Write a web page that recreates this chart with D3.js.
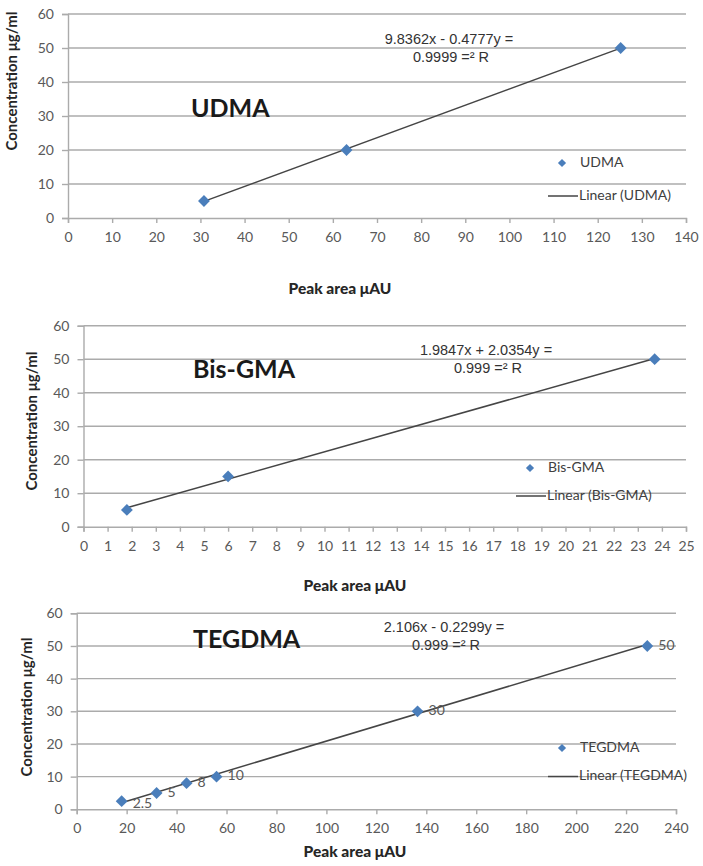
<!DOCTYPE html>
<html>
<head>
<meta charset="utf-8">
<script src="https://cdn.jsdelivr.net/npm/d3@7"></script>
<style>
  body { margin: 0; background: #fff; }
  svg { display: block; }
</style>
</head>
<body>
<svg id="chart" width="703" height="866"></svg>
<script>
// ---------- DATA ----------
const udmaArea = [30.8, 63.1, 125.2];
const udmaConc = [5, 20, 50];
const udmaFit = [0.4777, -9.8362];            // slope, intercept
const udmaEq = ["9.8362x - 0.4777y =", "0.9999 =\u00B2 R"];
const udmaXTicks = [0, 10, 20, 30, 40, 50, 60, 70, 80, 90, 100, 110, 120, 130, 140];

const bisArea = [1.8, 6.0, 23.7];
const bisConc = [5, 15, 50];
const bisFit = [2.0354, 1.9847];
const bisEq = ["1.9847x + 2.0354y =", "0.999 =\u00B2 R"];
const bisXTicks = [0, 1, 2, 3, 4, 5, 6, 7, 8, 9, 10, 11, 12, 13, 14, 15, 16, 17, 18, 19, 20, 21, 22, 23, 24, 25];

const tegArea = [18, 32, 44, 56, 136.5, 228.5];
const tegConc = [2.5, 5, 8, 10, 30, 50];
const tegLabels = ["2.5", "5", "8", "10", "30", "50"];
const tegFit = [0.2299, -2.106];
const tegEq = ["2.106x - 0.2299y =", "0.999 =\u00B2 R"];
const tegXTicks = [0, 20, 40, 60, 80, 100, 120, 140, 160, 180, 200, 220, 240];

const yTicks = [0, 10, 20, 30, 40, 50, 60];
const yTitle = "Concentration \u03BCg/ml";
const xTitle = "Peak area  \u03BCAU";

// ---------- DRAW ----------
const svg = d3.select("#chart");
const FONT = "Lato, 'Open Sans', sans-serif";
const GRID = "#ababab";
const TICKC = "#595959";
const BLUE = "#4a7ebb";

function panel(cfg) {
  const x = d3.scaleLinear().domain([cfg.xTicks[0], cfg.xTicks[cfg.xTicks.length - 1]]).range(cfg.xr);
  const y = d3.scaleLinear().domain([0, 60]).range(cfg.yr);
  const g = svg.append("g");

  // gridlines
  g.append("g").selectAll("line").data(yTicks.filter(d => d > 0)).join("line")
    .attr("x1", cfg.xr[0]).attr("x2", cfg.xr[1])
    .attr("y1", d => y(d)).attr("y2", d => y(d))
    .attr("stroke", GRID).attr("stroke-width", 1.4);

  // y axis
  const ya = g.append("g").attr("transform", `translate(${cfg.xr[0]},0)`)
    .call(d3.axisLeft(y).tickValues(yTicks).tickSize(6).tickPadding(8));
  ya.select(".domain").attr("stroke", GRID).attr("stroke-width", 1.4);
  ya.selectAll(".tick line").attr("stroke", GRID).attr("stroke-width", 1.4);
  ya.selectAll(".tick text").attr("fill", TICKC).style("font-family", FONT).style("font-size", "14px");

  // x axis
  const xa = g.append("g").attr("transform", `translate(0,${cfg.yr[0]})`)
    .call(d3.axisBottom(x).tickValues(cfg.xTicks).tickSize(5).tickPadding(9));
  xa.select(".domain").attr("stroke", GRID).attr("stroke-width", 1.4);
  xa.selectAll(".tick line").attr("stroke", GRID).attr("stroke-width", 1.4);
  xa.selectAll(".tick text").attr("fill", TICKC).style("font-family", FONT).style("font-size", "14px");

  // trendline over data range
  const x0 = d3.min(cfg.area), x1 = d3.max(cfg.area);
  const f = v => cfg.fit[0] * v + cfg.fit[1];
  g.append("line")
    .attr("x1", x(x0)).attr("y1", y(f(x0)))
    .attr("x2", x(x1)).attr("y2", y(f(x1)))
    .attr("stroke", "#454545").attr("stroke-width", 1.5);

  // points (square rotated 45deg = diamond)
  const diamond = d3.symbol().type(d3.symbolSquare).size(70);
  g.append("g").selectAll("path").data(cfg.area.map((a, i) => [a, cfg.conc[i]])).join("path")
    .attr("d", diamond)
    .attr("transform", d => `translate(${x(d[0])},${y(d[1])}) rotate(45)`)
    .attr("fill", BLUE);

  // data labels
  if (cfg.labels) {
    g.append("g").selectAll("text").data(cfg.labels).join("text")
      .attr("x", (d, i) => x(cfg.area[i]) + 11)
      .attr("y", (d, i) => y(cfg.conc[i]) + (i === 0 ? 3 : 0))
      .attr("dominant-baseline", "middle")
      .attr("fill", TICKC).style("font-family", FONT).style("font-size", "14px")
      .text(d => d);
  }

  // equation
  g.append("text").attr("x", cfg.eqPos[0]).attr("y", cfg.eqPos[1])
    .attr("text-anchor", "middle").attr("dominant-baseline", "middle")
    .attr("fill", "#333").style("font-family", "'Liberation Sans', Arial, sans-serif").style("font-size", "14.5px")
    .text(cfg.eq[0]);
  g.append("text").attr("x", cfg.eqPos[0] + 2).attr("y", cfg.eqPos[1] + 18)
    .attr("text-anchor", "middle").attr("dominant-baseline", "middle")
    .attr("fill", "#333").style("font-family", "'Liberation Sans', Arial, sans-serif").style("font-size", "14.5px")
    .text(cfg.eq[1]);

  // big title
  g.append("text").attr("x", cfg.titlePos[0]).attr("y", cfg.titlePos[1])
    .attr("dominant-baseline", "middle")
    .attr("fill", "#1a1a1a").style("font-family", FONT).style("font-weight", "bold").style("font-size", "25px")
    .text(cfg.title);

  // legend
  const lg = g.append("g").attr("transform", `translate(${cfg.legPos[0]},${cfg.legPos[1]})`);
  lg.append("path").attr("d", d3.symbol().type(d3.symbolSquare).size(34))
    .attr("transform", "translate(14,0) rotate(45)").attr("fill", BLUE);
  lg.append("text").attr("x", 32).attr("y", 0).attr("dominant-baseline", "middle")
    .attr("fill", "#404040").style("font-family", FONT).style("font-size", "14px").text(cfg.title);
  lg.append("line").attr("x1", 0).attr("x2", 30).attr("y1", cfg.legGap).attr("y2", cfg.legGap)
    .attr("stroke", "#454545").attr("stroke-width", 1.5);
  lg.append("text").attr("x", 31).attr("y", cfg.legGap).attr("dominant-baseline", "middle")
    .attr("fill", "#404040").style("font-family", FONT).style("font-size", "14px").text("Linear (" + cfg.title + ")");

  // axis titles
  g.append("text").attr("x", cfg.xtPos[0]).attr("y", cfg.xtPos[1])
    .attr("text-anchor", "middle").attr("dominant-baseline", "middle")
    .attr("fill", "#262626").style("font-family", FONT).style("font-weight", "900").style("font-size", "15.5px")
    .text(xTitle);
  g.append("text").attr("transform", `translate(${cfg.ytPos[0]},${cfg.ytPos[1]}) rotate(-90)`)
    .attr("text-anchor", "middle").attr("dominant-baseline", "middle")
    .attr("fill", "#262626").style("font-family", FONT).style("font-weight", "bold").style("font-size", "15px")
    .text(yTitle);
}

panel({
  title: "UDMA", area: udmaArea, conc: udmaConc, fit: udmaFit, eq: udmaEq, xTicks: udmaXTicks,
  xr: [68, 686], yr: [218, 14], eqPos: [449, 40], titlePos: [191, 111],
  legPos: [548, 163], legGap: 33, xtPos: [340, 290], ytPos: [13, 81]
});
panel({
  title: "Bis-GMA", area: bisArea, conc: bisConc, fit: bisFit, eq: bisEq, xTicks: bisXTicks,
  xr: [83.5, 686], yr: [526.7, 325.7], eqPos: [486, 351], titlePos: [193, 372],
  legPos: [516, 468], legGap: 28, xtPos: [355, 587], ytPos: [33, 421]
});
panel({
  title: "TEGDMA", area: tegArea, conc: tegConc, fit: tegFit, eq: tegEq, xTicks: tegXTicks, labels: tegLabels,
  xr: [76.7, 676], yr: [809.3, 613.3], eqPos: [444, 628], titlePos: [193, 642],
  legPos: [548, 748], legGap: 28.5, xtPos: [355, 853], ytPos: [28, 707]
});
</script>
</body>
</html>
